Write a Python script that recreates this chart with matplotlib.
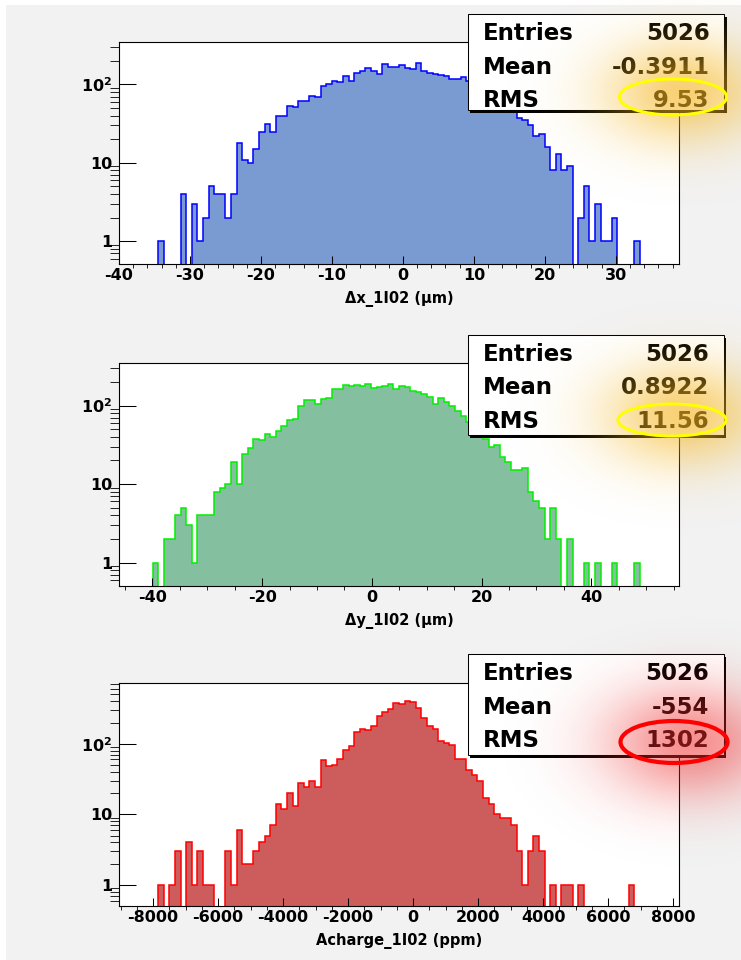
import numpy as np
import matplotlib
matplotlib.use('Agg')
import matplotlib.pyplot as plt
import matplotlib.ticker as mticker
from matplotlib.patches import Rectangle, Ellipse

W, H = 741, 960

# ---- data: bin contents (100 bins each)
dx_counts = [0, 0, 0, 0, 0, 0, 0, 1, 0, 0,
             0, 4, 0, 3, 1, 2, 5, 4, 4, 2,
             4, 18, 11, 10, 15, 25, 31, 25, 40, 39,
             53, 52, 62, 61, 72, 70, 95, 100, 110, 108,
             130, 112, 140, 150, 160, 148, 134, 180, 168, 168,
             175, 163, 156, 187, 150, 140, 135, 133, 130, 118,
             118, 125, 110, 100, 95, 88, 78, 70, 60, 52,
             45, 37, 35, 30, 22, 23, 16, 8, 13, 8,
             9, 0, 2, 5, 1, 3, 1, 1, 2, 0,
             0, 0, 1, 0, 0, 0, 0, 0, 0, 0]
dy_counts = [0, 0, 0, 0, 0, 0, 1, 0, 2, 2,
             4, 5, 3, 1, 4, 4, 4, 8, 9, 10,
             19, 10, 24, 29, 37, 36, 43, 40, 47, 55,
             65, 67, 100, 116, 118, 105, 122, 124, 161, 161,
             182, 178, 183, 178, 186, 165, 170, 178, 186, 162,
             176, 170, 154, 148, 141, 130, 105, 124, 112, 100,
             86, 74, 62, 52, 45, 38, 30, 31, 22, 19,
             15, 15, 16, 8, 6, 5, 2, 5, 2, 0,
             2, 0, 0, 1, 0, 1, 0, 0, 1, 0,
             0, 0, 1, 0, 0, 0, 0, 0, 0, 0]
acharge_counts = [0, 0, 0, 0, 0, 0, 0, 1, 0, 1,
                  3, 0, 4, 1, 3, 1, 1, 0, 0, 3,
                  1, 6, 2, 2, 3, 4, 5, 7, 14, 12,
                  20, 13, 28, 24, 30, 24, 58, 48, 50, 61,
                  82, 92, 145, 162, 155, 176, 244, 278, 310, 377,
                  362, 400, 385, 320, 231, 176, 163, 111, 102, 96,
                  61, 61, 43, 36, 30, 17, 14, 10, 9, 9,
                  7, 3, 1, 3, 5, 3, 0, 1, 0, 1,
                  1, 0, 1, 0, 0, 0, 0, 0, 0, 0,
                  0, 1, 0, 0, 0, 0, 0, 0, 0, 0]

x_ranges = [(-40.0, 38.9), (-46.1, 56.0), (-9050.0, 8180.0)]
y_tops = [348, 351, 726]
x_labels = ['\u0394x_1I02 (\u03bcm)', '\u0394y_1I02 (\u03bcm)', 'Acharge_1I02 (ppm)']
entries = ['5026', '5026', '5026']
means = ['-0.3911', '0.8922', '-554']
rms = ['9.53', '11.56', '1302']

plt.rcParams['font.family'] = 'DejaVu Sans'
plt.rcParams['font.weight'] = 'bold'
plt.rcParams['axes.unicode_minus'] = False

fig = plt.figure(figsize=(W / 100, H / 100), dpi=100)
fig.patch.set_facecolor('white')
fig.add_artist(Rectangle((6 / W, 0), 1, 1 - 5 / H, transform=fig.transFigure,
                         facecolor='#f2f2f2', edgecolor='none', zorder=-10))


def px_axes(left, top, right, bottom):
    return fig.add_axes([left / W, 1 - bottom / H, (right - left) / W, (bottom - top) / H])


frames = [(119, 42, 679, 264.3), (119, 362.7, 679, 585.7), (119, 683, 679, 905.7)]
counts_all = [dx_counts, dy_counts, acharge_counts]
fills = ['#7a9ad2', '#84c0a0', '#cd5c5c']
lines = ['#0000ff', '#00f000', '#ff0000']
x_major = [10, 20, 2000]
x_minor = [2, 5, 500]

for k in range(3):
    ax = px_axes(*frames[k])
    ax.set_facecolor('white')
    lo, hi = x_ranges[k]
    vals = np.asarray(counts_all[k], float)
    edges = np.linspace(lo, hi, len(vals) + 1)
    vals = np.where(vals > 0, vals, 1e-3)
    ax.stairs(vals, edges, baseline=1e-3, fill=True, facecolor=fills[k],
              edgecolor=lines[k], lw=1.1)
    ax.set_yscale('log')
    ax.set_xlim(lo, hi)
    ax.set_ylim(0.507, y_tops[k])
    ax.yaxis.set_major_locator(mticker.FixedLocator([1, 10, 100]))
    ax.yaxis.set_major_formatter(mticker.FixedFormatter(['1', '10', r'10$^{\mathbf{2}}$']))
    ax.yaxis.set_minor_locator(mticker.LogLocator(subs=np.arange(2, 10)))
    ax.yaxis.set_minor_formatter(mticker.NullFormatter())
    ax.xaxis.set_major_locator(mticker.MultipleLocator(x_major[k]))
    ax.xaxis.set_minor_locator(mticker.MultipleLocator(x_minor[k]))
    for s in ax.spines.values():
        s.set_linewidth(0.8)
    ax.tick_params(direction='in', top=False, right=False, labelsize=11.5, width=0.75)
    ax.tick_params(axis='x', which='major', length=5.5, pad=3)
    ax.tick_params(axis='x', which='minor', length=2.7)
    ax.tick_params(axis='y', which='major', length=12, pad=5)
    ax.tick_params(axis='y', which='minor', length=6.5)
    ax.set_xlabel(x_labels[k], fontsize=10.5, fontweight='bold')
    ax.xaxis.label.set_va('center')
    ax.xaxis.set_label_coords(0.5, -35 / (frames[k][3] - frames[k][1]))

# ---- stats boxes, glows and rings on a pixel overlay
ov = fig.add_axes([0, 0, 1, 1], zorder=5)
ov.axis('off')

boxes = [(467.5, 14, 724, 110), (467.5, 335, 723.5, 435), (467.5, 654.3, 723.5, 755)]
for k in range(3):
    l, t, r, b = boxes[k]
    ov.add_patch(Rectangle((l + 2.5, t + 2.5), r - l, b - t, facecolor='black', edgecolor='none'))
    ov.add_patch(Rectangle((l, t), r - l, b - t, facecolor='white', edgecolor='black', lw=0.75))
    rows = [('Entries', entries[k]), ('Mean', means[k]), ('RMS', rms[k])]
    for j, (name, val) in enumerate(rows):
        yb = t + 26 + j * 33.5
        ov.text(l + 15, yb, name, fontsize=16.5, fontweight='bold', va='baseline', ha='left')
        ov.text(r - 14.5, yb, val, fontsize=16.5, fontweight='bold', va='baseline', ha='right')

glows = [((684, 92), 56, 36, '#f5b51f', 0.62),
         ((684, 415), 56, 36, '#f5b51f', 0.62),
         ((690, 742), 60, 40, '#f02828', 0.52)]
for (cx, cy), sx, sy, col, amp in glows:
    xs = np.arange(cx - 200, cx + 200)
    ys = np.arange(cy - 140, cy + 140)
    gx, gy = np.meshgrid(xs, ys)
    a = amp * np.exp(-0.5 * (((gx - cx) / sx) ** 2 + ((gy - cy) / sy) ** 2))
    rgb = matplotlib.colors.to_rgb(col)
    img = np.zeros(gx.shape + (4,))
    img[..., 0], img[..., 1], img[..., 2] = rgb
    img[..., 3] = a
    ov.imshow(img, extent=(xs[0], xs[-1], ys[-1], ys[0]), origin='upper',
              interpolation='bilinear', aspect='auto', zorder=3)

rings = [((673, 97), 107, 36, '#ffff00', 2.2),
         ((672, 420), 108, 32, '#ffff00', 2.2),
         ((674, 742), 107, 42, '#ff0000', 3.0)]
for (cx, cy), w, h, col, lw in rings:
    ov.add_patch(Ellipse((cx, cy), w, h, fill=False, edgecolor=col, lw=lw, zorder=4))

ov.set_xlim(0, W)
ov.set_ylim(H, 0)

fig.savefig('out.png', dpi=100)
